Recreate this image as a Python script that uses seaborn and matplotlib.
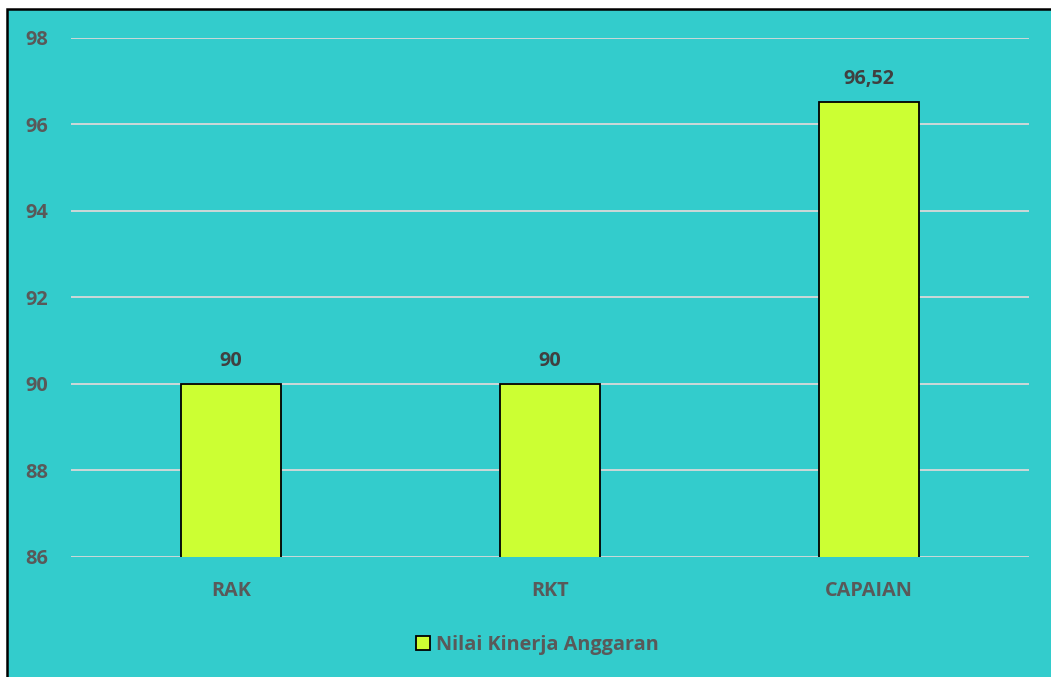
import numpy as np
import pandas as pd
import matplotlib
matplotlib.use('Agg')
import matplotlib.pyplot as plt
import seaborn as sns
from matplotlib.patches import Rectangle

# data
categories = ['RAK', 'RKT', 'CAPAIAN']
values = [90, 90, 96.52]
labels = ['90', '90', '96,52']
series_name = 'Nilai Kinerja Anggaran'
yticks = [86, 88, 90, 92, 94, 96, 98]

df = pd.DataFrame({'kategori': categories, 'nilai': values})

sns.set_style('white')
plt.rcParams['font.family'] = ['Open Sans', 'DejaVu Sans']
plt.rcParams['font.weight'] = 'bold'

bg = '#33CCCC'
bar_color = '#CCFF33'
txt = '#595959'
fs = 14.3

fig = plt.figure(figsize=(10.51, 6.77), dpi=100, facecolor='white')
# chart area frame
fig.patches.append(Rectangle((0.0062, -0.05), 1.2, 0.9874 + 0.05, transform=fig.transFigure,
                             facecolor=bg, edgecolor='black', linewidth=1.8, zorder=-1))

ax = fig.add_axes([0.0676, 0.1773, 0.9114, 0.7666])
ax.set_facecolor('none')

sns.barplot(data=df, x='kategori', y='nilai', color=bar_color, saturation=1,
            width=0.313, edgecolor='black', linewidth=1.3, ax=ax, label=series_name, zorder=3)
handles, lbls = ax.get_legend_handles_labels()
if ax.get_legend() is not None:
    ax.get_legend().remove()

ax.set_ylim(86, 98)
ax.set_xlim(-0.5, 2.5)
ax.set_yticks(yticks)
ax.yaxis.grid(True, color='#D9D9D9', linewidth=1.3, zorder=0)
ax.set_axisbelow(True)
for s in ax.spines.values():
    s.set_visible(False)
ax.set_xlabel('')
ax.set_ylabel('')
ax.tick_params(axis='y', length=0, pad=16.5, labelsize=fs, labelcolor=txt)
ax.tick_params(axis='x', length=0, pad=17, labelsize=fs, labelcolor=txt)
for t in ax.get_yticklabels() + ax.get_xticklabels():
    t.set_fontweight('bold')

ax.bar_label(ax.containers[0], labels=labels, padding=9, fontsize=fs,
             fontweight='bold', color='#404040')

leg = fig.legend(handles, lbls, loc='center', bbox_to_anchor=(0.511, 0.048), frameon=False,
                 handlelength=0.7, handleheight=0.7, handletextpad=0.3,
                 prop={'size': fs, 'weight': 'bold'})
for t in leg.get_texts():
    t.set_color(txt)

fig.savefig('out.png', dpi=100, facecolor='white')
